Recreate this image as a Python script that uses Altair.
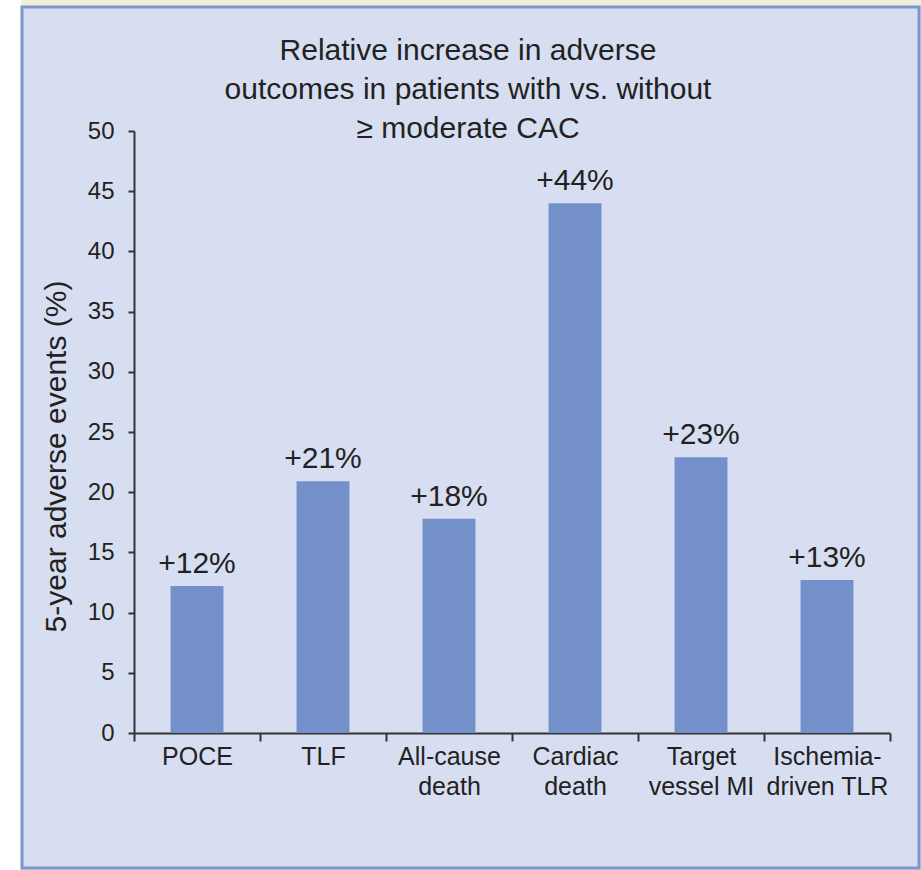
import altair as alt
import pandas as pd

categories = ["POCE", "TLF", "All-cause|death", "Cardiac|death", "Target|vessel MI", "Ischemia-|driven TLR"]
values = [12.2, 20.9, 17.8, 44.0, 22.9, 12.7]
labels = ["+12%", "+21%", "+18%", "+44%", "+23%", "+13%"]
title_lines = ["Relative increase in adverse", "outcomes in patients with vs. without", "\u2265 moderate CAC"]
y_title = "5-year adverse events (%)"
y_ticks = list(range(0, 51, 5))

df = pd.DataFrame({"cat": categories, "val": values, "lab": labels})

FONT = "Liberation Sans"
TEXT = "#222222"
BAR = "#7390cb"
BG = "#d8def1"
BORDER = "#7b95cd"

W, H = 756, 602

one = alt.Data(values=[{"k": 1}])

white_strip = alt.Chart(one).mark_rect(fill="white").encode(
    x=alt.value(-134), x2=alt.value(-113), y=alt.value(-131), y2=alt.value(739)
)
cream_strip = alt.Chart(one).mark_rect(fill="#f1eedb").encode(
    x=alt.value(-113), x2=alt.value(787), y=alt.value(-131), y2=alt.value(-125)
)
frame = alt.Chart(one).mark_rect(fill=None, stroke=BORDER, strokeWidth=3).encode(
    x=alt.value(-112), x2=alt.value(785), y=alt.value(-124), y2=alt.value(737)
)

x_enc = alt.X(
    "cat:N",
    sort=categories,
    scale=alt.Scale(paddingInner=0, paddingOuter=0),
    axis=alt.Axis(
        title=None,
        labelAngle=0,
        labelExpr="split(datum.label, '|')",
        labelFont=FONT,
        labelFontSize=25,
        labelLineHeight=30,
        labelColor=TEXT,
        labelPadding=3,
        tickSize=8,
        tickWidth=2,
        tickColor="#333333",
        tickBand="extent",
        domainColor="#333333",
        domainWidth=2,
    ),
)

y_enc = alt.Y(
    "val:Q",
    scale=alt.Scale(domain=[0, 50], nice=False),
    axis=alt.Axis(
        values=y_ticks,
        grid=False,
        title=y_title,
        titleFont=FONT,
        titleFontSize=30,
        titleFontWeight="normal",
        titleColor=TEXT,
        titleAngle=-90,
        titleX=-78,
        titleY=325,
        titleAlign="center",
        titleBaseline="middle",
        labelFont=FONT,
        labelFontSize=24,
        labelColor=TEXT,
        labelPadding=14,
        tickSize=6,
        tickWidth=2,
        tickColor="#333333",
        domainColor="#333333",
        domainWidth=2,
    ),
)

bars = alt.Chart(df).mark_bar(color=BAR, width=alt.RelativeBandSize(0.42)).encode(
    x=x_enc, y=y_enc
)

text = alt.Chart(df).mark_text(
    font=FONT, fontSize=30, color=TEXT, baseline="alphabetic", dy=-13
).encode(
    x=alt.X("cat:N", sort=categories),
    y=alt.Y("val:Q"),
    text="lab:N",
)

chart = alt.layer(white_strip, cream_strip, frame, bars, text).properties(
    width=W,
    height=H,
    background=BG,
    padding={"left": 134, "top": 131, "right": 31, "bottom": 137},
    autosize=alt.AutoSizeParams(type="none"),
    title=alt.Title(
        text=title_lines,
        font=FONT,
        fontSize=30,
        fontWeight="normal",
        color=TEXT,
        lineHeight=39,
        anchor="middle",
        baseline="alphabetic",
        dx=-44,
        dy=168,
        offset=0,
    ),
).configure_view(stroke=None)

chart.save("out.html", embed_options={"renderer": "svg", "actions": False})
